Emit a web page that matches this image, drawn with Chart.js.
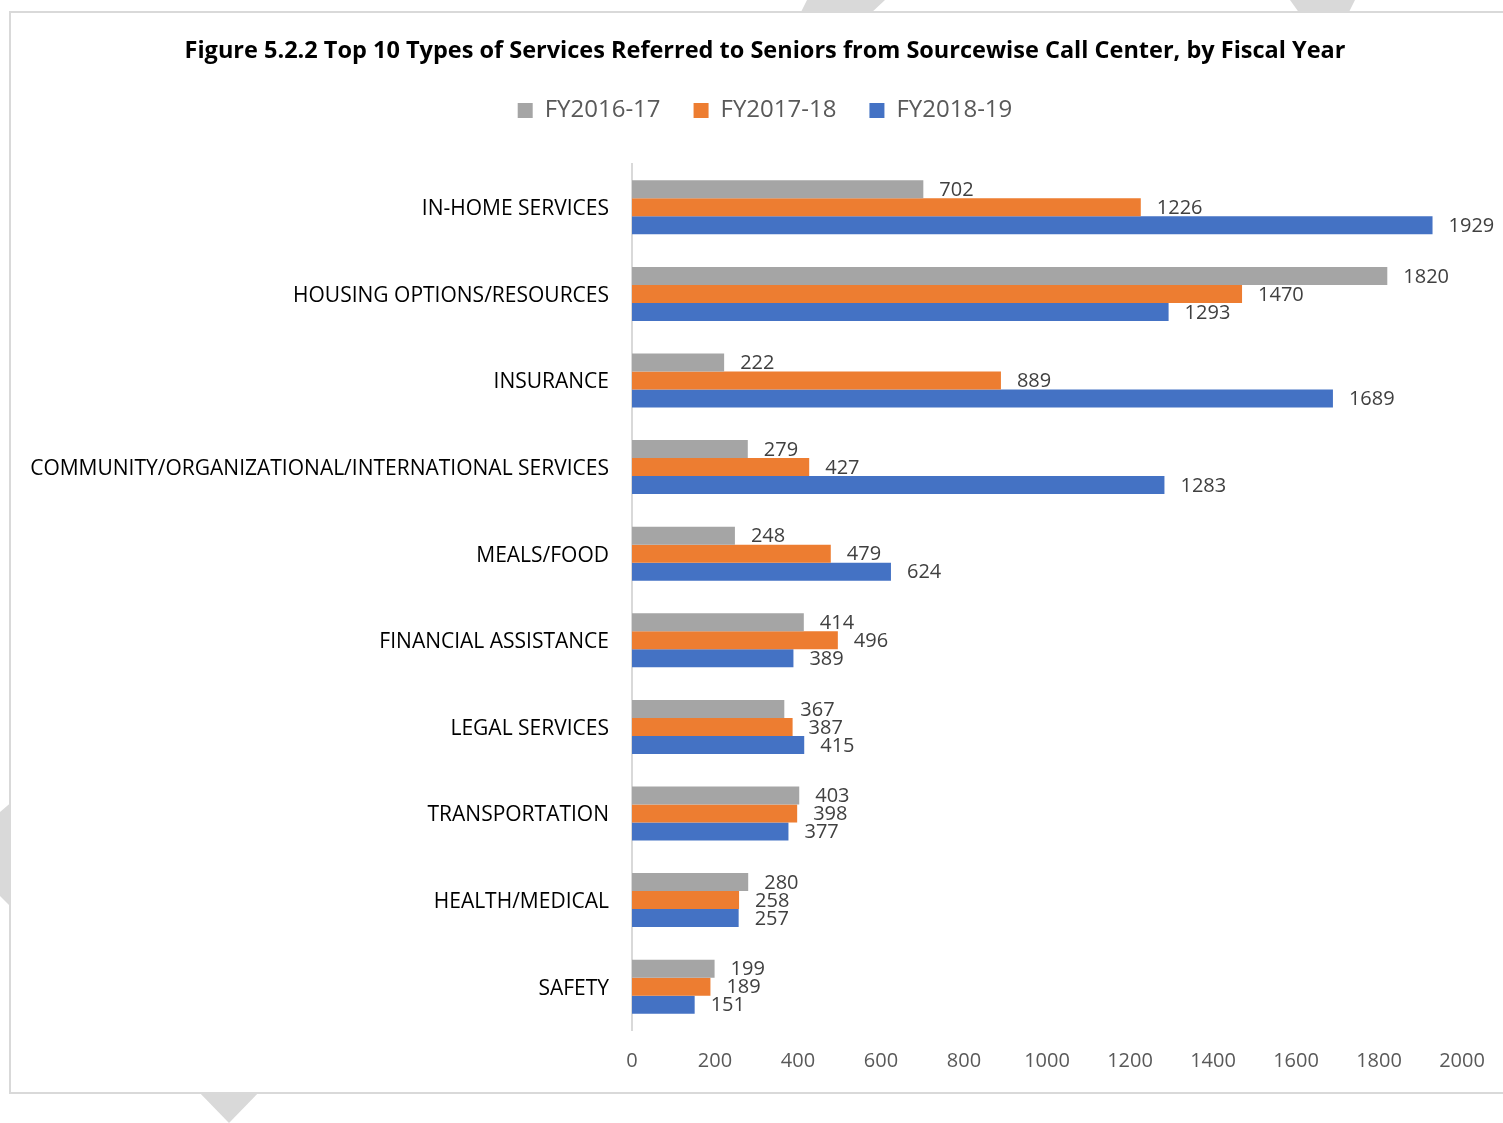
<!DOCTYPE html>
<html>
<head>
<meta charset="utf-8">
<script src="https://cdn.jsdelivr.net/npm/chart.js@4.4.1/dist/chart.umd.min.js"></script>
<style>
  html, body { margin: 0; padding: 0; background: #ffffff; }
  body { width: 1503px; height: 1123px; position: relative; overflow: hidden; }
  .mark { position: absolute; background: #d9d9d9; }
  #box { position: absolute; left: 9px; top: 11px; width: 1520px; height: 1079px; border: 2px solid #d9d9d9; background: #ffffff; }
  #wrap { position: absolute; left: 0; top: 0; width: 1530px; height: 1123px; }
</style>
</head>
<body>
<div class="mark" style="left:800px;top:0;width:85px;height:14px;clip-path:polygon(7px 0,85px 0,70px 14px,0 14px);"></div>
<div class="mark" style="left:1290px;top:0;width:65px;height:14px;clip-path:polygon(0 0,65px 0,58px 14px,10px 14px);"></div>
<div class="mark" style="left:0;top:800px;width:14px;height:110px;clip-path:polygon(14px 0,14px 110px,0 96px,0 12px);"></div>
<div class="mark" style="left:195px;top:1088px;width:68px;height:36px;clip-path:polygon(0 0,68px 0,34px 35px);"></div>
<div id="box"></div>
<div id="wrap"><canvas id="c" width="1530" height="1123"></canvas></div>
<script>
const categories = [
  "IN-HOME SERVICES",
  "HOUSING OPTIONS/RESOURCES",
  "INSURANCE",
  "COMMUNITY/ORGANIZATIONAL/INTERNATIONAL SERVICES",
  "MEALS/FOOD",
  "FINANCIAL ASSISTANCE",
  "LEGAL SERVICES",
  "TRANSPORTATION",
  "HEALTH/MEDICAL",
  "SAFETY"
];
const seriesNames = ["FY2016-17", "FY2017-18", "FY2018-19"];
const fy2016_17 = [702, 1820, 222, 279, 248, 414, 367, 403, 280, 199];
const fy2017_18 = [1226, 1470, 889, 427, 479, 496, 387, 398, 258, 189];
const fy2018_19 = [1929, 1293, 1689, 1283, 624, 389, 415, 377, 257, 151];
const xTicks = [0, 200, 400, 600, 800, 1000, 1200, 1400, 1600, 1800, 2000];

const colors = ["#A5A5A5", "#ED7D31", "#4472C4"];
const FONT = "'Open Sans', 'Noto Sans', sans-serif";

const valueLabels = {
  id: 'valueLabels',
  afterDatasetsDraw(chart) {
    const ctx = chart.ctx;
    ctx.save();
    ctx.font = "20px " + FONT;
    ctx.fillStyle = "#404040";
    ctx.textAlign = "left";
    ctx.textBaseline = "middle";
    chart.data.datasets.forEach((ds, i) => {
      const meta = chart.getDatasetMeta(i);
      meta.data.forEach((bar, j) => {
        ctx.fillText(String(ds.data[j]), bar.x + 16, bar.y + 1);
      });
    });
    ctx.restore();
  }
};

const spacer = {
  id: 'spacer',
  beforeInit(chart) {
    Chart.layouts.addBox(chart, {
      position: 'top', weight: 10, fullSize: true, options: {},
      isHorizontal() { return true; },
      update(maxWidth) { this.width = maxWidth; this.height = 31.4; return {}; },
      draw() {}
    });
    Chart.layouts.addBox(chart, {
      position: 'right', weight: 10, fullSize: false, options: {},
      isHorizontal() { return false; },
      update(maxWidth, maxHeight) { this.width = 68; this.height = maxHeight; return {}; },
      draw() {}
    });
  }
};

new Chart(document.getElementById('c'), {
  type: 'bar',
  data: {
    labels: categories,
    datasets: [
      { label: seriesNames[0], data: fy2016_17, backgroundColor: colors[0] },
      { label: seriesNames[1], data: fy2017_18, backgroundColor: colors[1] },
      { label: seriesNames[2], data: fy2018_19, backgroundColor: colors[2] }
    ]
  },
  options: {
    indexAxis: 'y',
    responsive: false,
    animation: false,
    devicePixelRatio: 1,
    categoryPercentage: 0.6235,
    barPercentage: 1.0,
    layout: { padding: { top: 0, bottom: 33, left: 0, right: 0 } },
    plugins: {
      title: {
        display: true,
        text: "Figure 5.2.2 Top 10 Types of Services Referred to Seniors from Sourcewise Call Center, by Fiscal Year",
        color: "#000000",
        font: { family: FONT, size: 23.5, weight: 'bold' },
        padding: { top: 36.9, bottom: 0.5 }
      },
      legend: {
        display: true,
        position: 'top',
        labels: {
          color: "#595959",
          font: { family: FONT, size: 24 },
          boxWidth: 15,
          boxHeight: 15,
          padding: 33
        }
      },
      tooltip: { enabled: false }
    },
    scales: {
      x: {
        type: 'linear',
        min: 0,
        max: 2000,
        afterBuildTicks: (s) => { s.ticks = xTicks.map(v => ({ value: v })); },
        ticks: { color: "#595959", font: { family: FONT, size: 20 }, padding: 19, callback: (v) => String(v) },
        grid: { display: false, drawTicks: false },
        border: { display: false },
        afterFit: (s) => { s.height = 60; }
      },
      y: {
        ticks: { color: "#000000", font: { family: FONT, size: 21 }, padding: 23, autoSkip: false, labelOffset: 2 },
        grid: { display: false, drawTicks: false },
        border: { display: true, color: "#d9d9d9", width: 2 },
        afterFit: (s) => { s.width = 632; }
      }
    }
  },
  plugins: [valueLabels, spacer]
});
</script>
</body>
</html>
